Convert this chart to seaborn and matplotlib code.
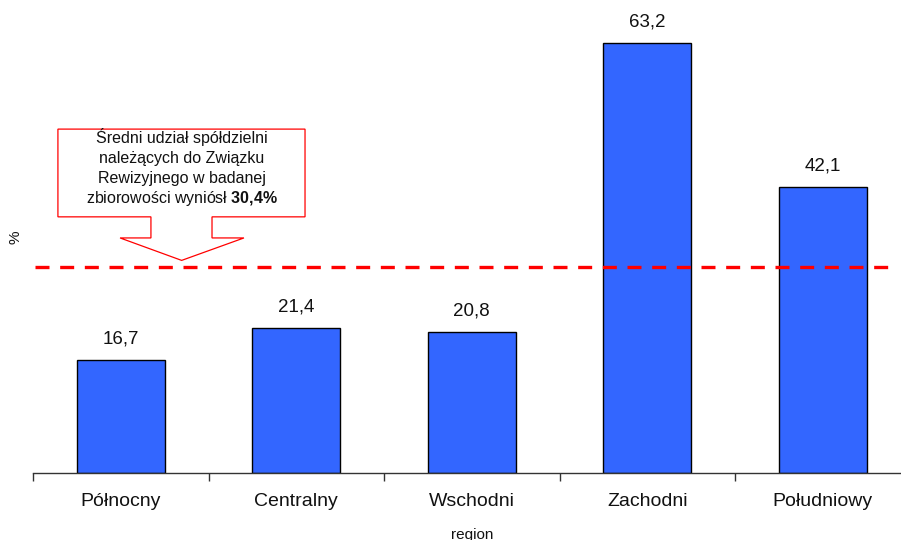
import matplotlib
matplotlib.use("Agg")
import matplotlib.pyplot as plt
import seaborn as sns
import pandas as pd
from matplotlib.patches import Polygon
from matplotlib.ticker import FixedLocator

regions = ["Północny", "Centralny", "Wschodni", "Zachodni", "Południowy"]
values = [16.7, 21.4, 20.8, 63.2, 42.1]
value_labels = ["16,7", "21,4", "20,8", "63,2", "42,1"]
average = 30.4
callout_lines = ["Średni udział spółdzielni",
                 "należących do Związku",
                 "Rewizyjnego w badanej"]
callout_last = r"zbiorowości wyniósł $\mathbf{30{,}4\%}$"

sns.set_style("white")
plt.rcParams['font.family'] = ['Liberation Sans', 'DejaVu Sans']
plt.rcParams['mathtext.fontset'] = 'custom'
plt.rcParams['mathtext.bf'] = 'Liberation Sans:bold'
plt.rcParams['mathtext.rm'] = 'Liberation Sans'

fig = plt.figure(figsize=(9.01, 5.40), dpi=100)
ax = fig.add_axes([33/901, (540-473.3)/540, (910.5-33)/901, (473.3-5.3)/540])

df = pd.DataFrame({"region": regions, "value": values})
sns.barplot(data=df, x="region", y="value", color="#3366FF", saturation=1,
            width=0.5, edgecolor="black", linewidth=1, ax=ax)

ax.set_xlim(-0.5, len(regions) - 0.5)
ax.set_ylim(0, 68.8)

for i, (v, lab) in enumerate(zip(values, value_labels)):
    ax.annotate(lab, (i, v), xytext=(0, 9), textcoords="offset points",
                ha="center", va="bottom", fontsize=13.5, color="#111111")

# average dashed line
ax.axhline(average, xmin=0.002, xmax=0.98, color="#FF0000", lw=2.4,
           dashes=(4.2, 3.2), zorder=5)

# callout
poly = [(-0.358, 50.6), (1.05, 50.6), (1.05, 37.7), (0.52, 37.7), (0.52, 34.6),
        (0.702, 34.6), (0.347, 31.3), (-0.004, 34.6), (0.172, 34.6), (0.172, 37.7),
        (-0.358, 37.7)]
ax.add_patch(Polygon(poly, closed=True, facecolor="white", edgecolor="#FF0000",
                     lw=0.9, zorder=6))
cx = 0.346
ys = [48.5, 45.6, 42.7, 39.7]
for y, t in zip(ys, callout_lines + [callout_last]):
    ax.text(cx, y, t, ha="center", va="baseline", fontsize=11.5, color="#111111", zorder=7)

sns.despine(ax=ax, left=True, top=True, right=True)
ax.spines['bottom'].set_color("#333333")
ax.spines['bottom'].set_linewidth(1)
ax.set_yticks([])
ax.xaxis.set_minor_locator(FixedLocator([i - 0.5 for i in range(len(regions) + 1)]))
ax.tick_params(axis='x', which='major', length=0, pad=14, labelsize=14, labelcolor="#111111")
ax.tick_params(axis='x', which='minor', length=6, width=1, color="#333333", bottom=True)
ax.set_xlabel("region", fontsize=11, labelpad=13, color="#111111")
ax.set_ylabel("%", fontsize=11, color="#111111")
ax.yaxis.set_label_coords(-0.0114, 0.505)

fig.savefig("out.png", dpi=100)
